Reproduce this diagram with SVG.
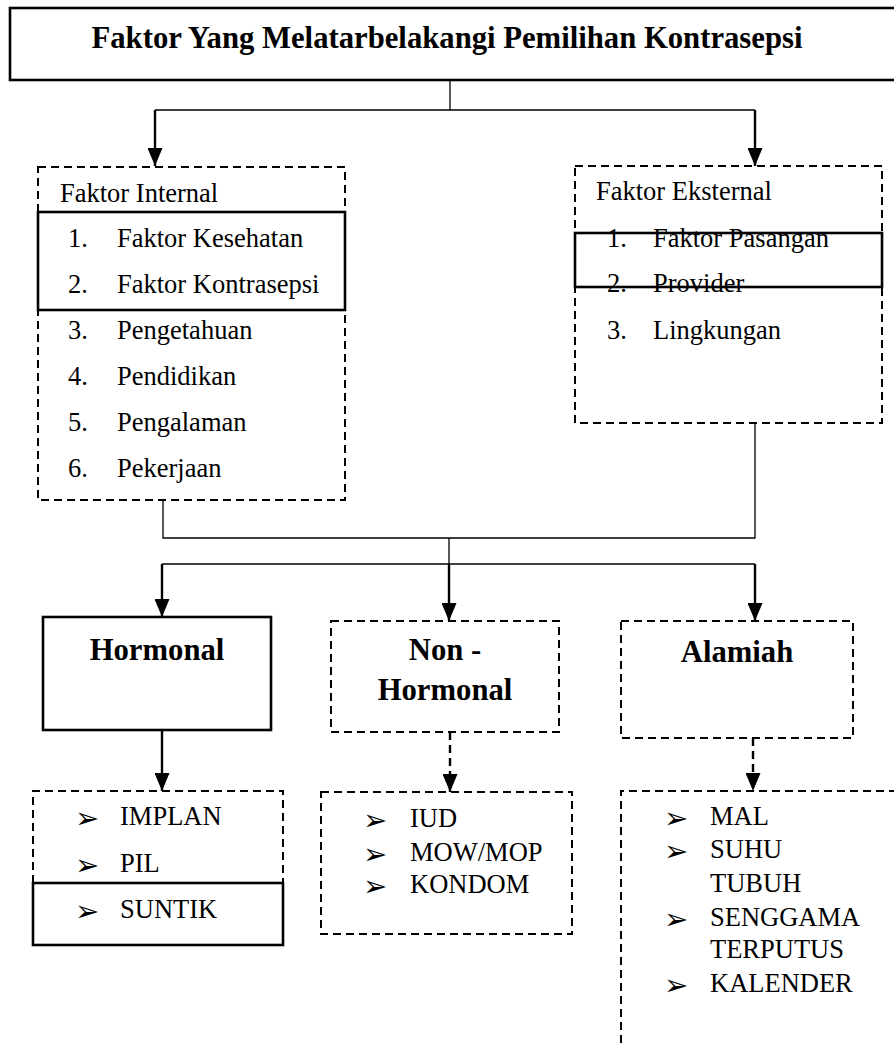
<svg xmlns="http://www.w3.org/2000/svg" width="894" height="1043" viewBox="0 0 894 1043">
<style>
.t{font-family:"Liberation Serif","Times New Roman",serif;font-size:26.5px;fill:#000}
.b{font-family:"Liberation Serif","Times New Roman",serif;font-size:30.7px;font-weight:bold;fill:#000}
.bl{font-family:"DejaVu Sans",sans-serif;font-size:29px;fill:#000}
.dash{fill:none;stroke:#000;stroke-width:2;stroke-dasharray:8 5}
.solid{fill:none;stroke:#000;stroke-width:2.6}
.thin{fill:none;stroke:#000;stroke-width:1.3}
.arr{fill:none;stroke:#000;stroke-width:2.4}
.darr{fill:none;stroke:#000;stroke-width:2.4;stroke-dasharray:8 5}
</style>
<defs>
<marker id="ah" markerWidth="18" markerHeight="15" refX="18" refY="7.5" orient="auto" markerUnits="userSpaceOnUse" viewBox="0 0 18 15">
<path d="M0,0 L18,7.5 L0,15 Z" fill="#000"/>
</marker>
</defs>
<rect width="894" height="1043" fill="#fff"/>

<g id="title">
<rect x="10" y="8" width="900" height="72" class="solid"/>
<text x="447" y="48" class="b" text-anchor="middle">Faktor Yang Melatarbelakangi Pemilihan Kontrasepsi</text>
</g>

<g id="internal">
<rect x="38" y="167" width="307" height="333" class="dash"/>
<rect x="38" y="212" width="307" height="98" class="solid"/>
<text x="60" y="202" class="t">Faktor Internal</text>
<text x="68" y="247" class="t">1.</text><text x="117" y="247" class="t">Faktor Kesehatan</text>
<text x="68" y="293" class="t">2.</text><text x="117" y="293" class="t">Faktor Kontrasepsi</text>
<text x="68" y="339" class="t">3.</text><text x="117" y="339" class="t">Pengetahuan</text>
<text x="68" y="385" class="t">4.</text><text x="117" y="385" class="t">Pendidikan</text>
<text x="68" y="431" class="t">5.</text><text x="117" y="431" class="t">Pengalaman</text>
<text x="68" y="477" class="t">6.</text><text x="117" y="477" class="t">Pekerjaan</text>
</g>

<g id="eksternal">
<rect x="575" y="166" width="307" height="257" class="dash"/>
<rect x="575" y="233" width="307" height="54" class="solid"/>
<text x="596" y="200" class="t">Faktor Eksternal</text>
<text x="607" y="247" class="t">1.</text><text x="653" y="247" class="t">Faktor Pasangan</text>
<text x="607" y="292" class="t">2.</text><text x="653" y="292" class="t">Provider</text>
<text x="607" y="339" class="t">3.</text><text x="653" y="339" class="t">Lingkungan</text>
</g>

<g id="hormonal">
<rect x="43" y="617" width="228" height="113" class="solid"/>
<text x="157" y="660" class="b" text-anchor="middle">Hormonal</text>
</g>

<g id="nonhormonal">
<rect x="331" y="621" width="228" height="111" class="dash"/>
<text x="445" y="660" class="b" text-anchor="middle">Non -</text>
<text x="445" y="700" class="b" text-anchor="middle">Hormonal</text>
</g>

<g id="alamiah">
<rect x="621" y="621" width="232" height="117" class="dash"/>
<text x="737" y="662" class="b" text-anchor="middle">Alamiah</text>
</g>

<g id="hormonal-items">
<path d="M33,883 L33,791 L283,791 L283,883" class="dash"/>
<rect x="33" y="883" width="250" height="62" class="solid"/>
<text x="75" y="828" class="bl">➢</text><text x="120" y="825" class="t">IMPLAN</text>
<text x="75" y="875" class="bl">➢</text><text x="120" y="872" class="t">PIL</text>
<text x="75" y="921" class="bl">➢</text><text x="120" y="918" class="t">SUNTIK</text>
</g>

<g id="nonhormonal-items">
<rect x="321" y="792" width="251" height="142" class="dash"/>
<text x="363" y="830" class="bl">➢</text><text x="410" y="827" class="t">IUD</text>
<text x="363" y="864" class="bl">➢</text><text x="410" y="861" class="t">MOW/MOP</text>
<text x="363" y="896" class="bl">➢</text><text x="410" y="893" class="t">KONDOM</text>
</g>

<g id="alamiah-items">
<path d="M621,1043 L621,791 L900,791" class="dash"/>
<text x="664" y="828" class="bl">➢</text><text x="710" y="825" class="t">MAL</text>
<text x="664" y="861" class="bl">➢</text><text x="710" y="858" class="t">SUHU</text>
<text x="710" y="892" class="t">TUBUH</text>
<text x="664" y="929" class="bl">➢</text><text x="710" y="926" class="t">SENGGAMA</text>
<text x="710" y="958" class="t">TERPUTUS</text>
<text x="664" y="995" class="bl">➢</text><text x="710" y="992" class="t">KALENDER</text>
</g>

<g id="connectors">
<path d="M450,80 L450,110 M155,110 L755,110" class="thin"/>
<path d="M155,110 L155,166" class="arr" marker-end="url(#ah)"/>
<path d="M755,110 L755,166" class="arr" marker-end="url(#ah)"/>
<path d="M163,500 L163,538 L755,538 L755,423 M449,538 L449,564 M162,564 L755,564" class="thin"/>
<path d="M162,564 L162,617" class="arr" marker-end="url(#ah)"/>
<path d="M449,564 L449,621" class="arr" marker-end="url(#ah)"/>
<path d="M755,564 L755,621" class="arr" marker-end="url(#ah)"/>
<path d="M162,730 L162,791" class="arr" marker-end="url(#ah)"/>
<path d="M450,732 L450,792" class="darr" marker-end="url(#ah)"/>
<path d="M753,738 L753,791" class="darr" marker-end="url(#ah)"/>
</g>
</svg>
